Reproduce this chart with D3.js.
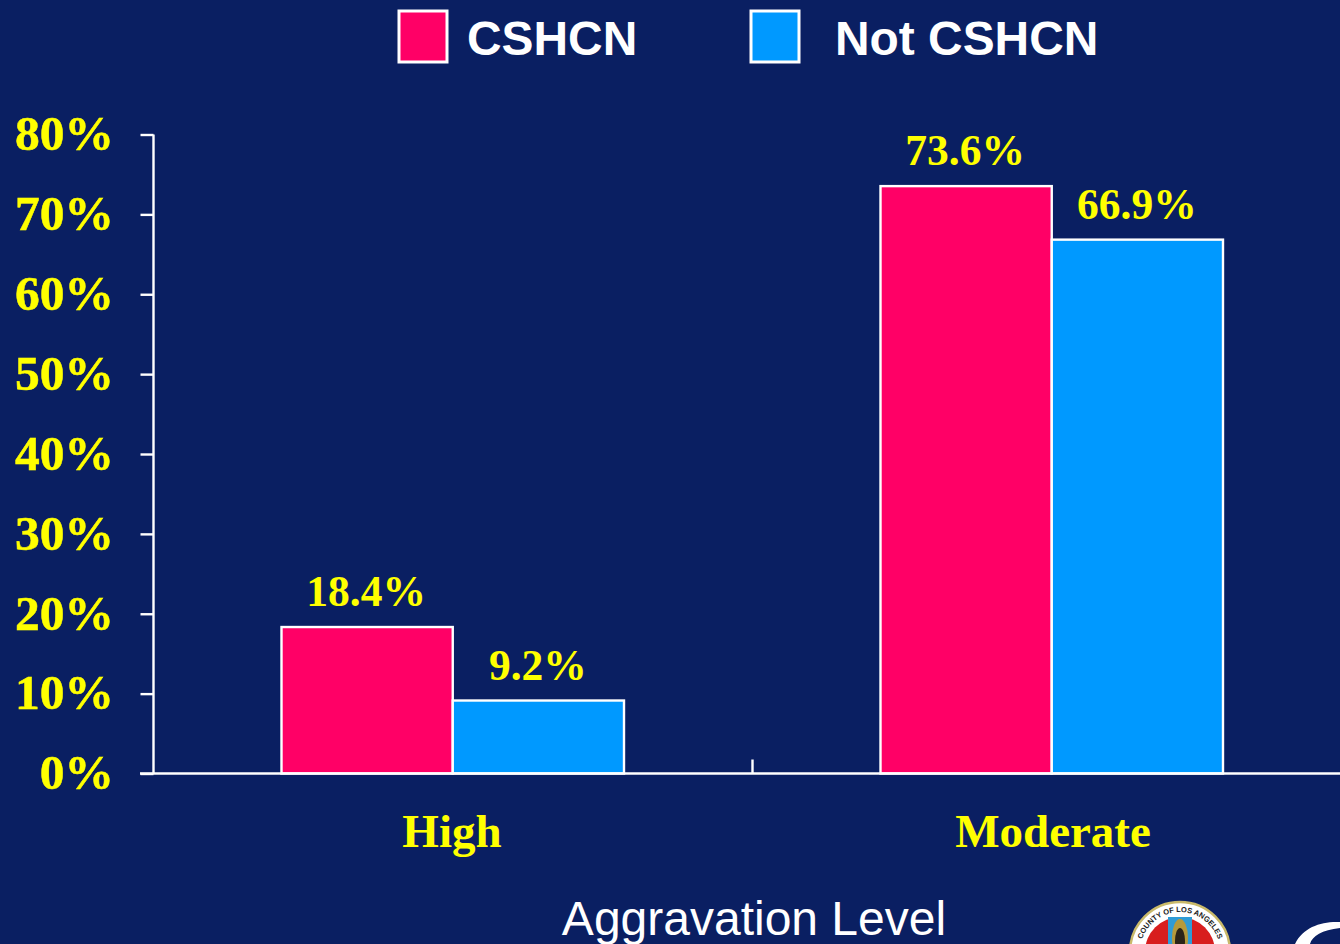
<!DOCTYPE html>
<html><head><meta charset="utf-8">
<script src="https://cdn.jsdelivr.net/npm/d3@7"></script>
<style>html,body{margin:0;padding:0;background:#0a1f62;overflow:hidden}svg{display:block}</style>
</head><body><div id="c"></div>
<script>
const categories = ["High","Moderate"];
const seriesNames = ["CSHCN","Not CSHCN"];
const cshcn = [18.4,73.6];
const notCshcn = [9.2,66.9];
const valueLabels = [["18.4%","73.6%"],["9.2%","66.9%"]];
const yTicks = [0,10,20,30,40,50,60,70,80];
const axisTitle = "Aggravation Level";
const colors = ["#ff0066","#0099ff"];
const serif = "'Liberation Serif',serif", sans = "'Liberation Sans',sans-serif";

const svg = d3.select("#c").append("svg").attr("width",1340).attr("height",944);
svg.append("rect").attr("width",1340).attr("height",944).attr("fill","#0a1f62");

const y = d3.scaleLinear().domain([0,80]).range([773.5,134.5]);
const x = d3.scaleBand().domain(categories).range([153.5,1351.5]);
const inner = d3.scaleBand().domain(seriesNames).range([128,470.5]);

// Y axis
const ya = svg.append("g").attr("transform","translate(153.5,0)")
  .call(d3.axisLeft(y).tickValues(yTicks).tickSize(13).tickFormat(d=>d+"%"));
ya.selectAll("path").attr("stroke","#fff").attr("stroke-width",2.4).attr("d","M0,134.5V773.5");
ya.selectAll("line").attr("stroke","#fff").attr("stroke-width",2.4);
ya.selectAll("text").attr("fill","#ffff00").attr("font-family",serif).attr("font-weight","bold").attr("font-size",49.5).attr("x",-39.5).attr("dy",".31em").attr("stroke","#ffff00").attr("stroke-width",0.5);

// Bars
[cshcn,notCshcn].forEach((vals,s)=>{
  const g = svg.append("g");
  g.selectAll("rect").data(vals).join("rect")
    .attr("x",(d,i)=>x(categories[i])+inner(seriesNames[s]))
    .attr("width",inner.bandwidth())
    .attr("y",d=>y(d)+0.5).attr("height",d=>y(0)-y(d)-0.5)
    .attr("fill",colors[s]).attr("stroke","#fff").attr("stroke-width",2.4);
  g.selectAll("text").data(vals).join("text")
    .attr("x",(d,i)=>x(categories[i])+inner(seriesNames[s])+inner.bandwidth()/2+(s?-0.5:-1))
    .attr("y",d=>y(d)-20.5)
    .attr("text-anchor","middle").attr("fill","#ffff00")
    .attr("font-family",serif).attr("font-weight","bold").attr("font-size",43.5)
    .text((d,i)=>valueLabels[s][i]);
});

// X axis
const xa = svg.append("g").attr("transform","translate(0,773.5)");
xa.append("line").attr("x1",140).attr("x2",1340).attr("stroke","#fff").attr("stroke-width",2.4);
xa.append("line").attr("x1",x("Moderate")).attr("x2",x("Moderate")).attr("y1",0).attr("y2",-14).attr("stroke","#fff").attr("stroke-width",2.4);
xa.selectAll("text").data(categories).join("text")
  .attr("x",(d,i)=>x(d)+x.bandwidth()/2+(i?1:-1)).attr("y",73)
  .attr("text-anchor","middle").attr("fill","#ffff00")
  .attr("font-family",serif).attr("font-weight","bold").attr("font-size",47).text(d=>d);

svg.append("text").attr("x",754).attr("y",935).attr("text-anchor","middle")
  .attr("fill","#fff").attr("font-family",sans).attr("font-size",48).text(axisTitle);

// Legend
const lg = svg.append("g");
const lx=[399,751], tx=[467,835];
seriesNames.forEach((n,i)=>{
  lg.append("rect").attr("x",lx[i]).attr("y",11).attr("width",48).attr("height",51)
    .attr("fill",colors[i]).attr("stroke","#fff").attr("stroke-width",3);
  lg.append("text").attr("x",tx[i]).attr("y",55).attr("fill","#fff")
    .attr("font-family",sans).attr("font-weight","bold").attr("font-size",47.9).text(n);
});

// Seal, cropped by the page bottom
const seal = svg.append("g").attr("transform","translate(1180,952)");
seal.append("circle").attr("r",50).attr("fill","#fff").attr("stroke","#c9b96a").attr("stroke-width",2.5);
seal.append("circle").attr("r",35).attr("fill","#d81e1e");
seal.append("rect").attr("x",-12).attr("y",-35).attr("width",24).attr("height",35).attr("fill","#2f9bd6");
seal.append("ellipse").attr("cy",-14).attr("rx",8).attr("ry",19).attr("fill","#b59a3c");
seal.append("ellipse").attr("cy",-11).attr("rx",5).attr("ry",13).attr("fill","#2a2418");
const sealDefs = seal.append("defs");
sealDefs.append("path").attr("id","sealArc").attr("d","M-40,0A40,40 0 0 1 40,0");
seal.append("text").attr("font-family",sans).attr("font-weight","bold").attr("font-size",7.5).attr("fill","#222")
  .append("textPath").attr("href","#sealArc").attr("startOffset","50%").attr("text-anchor","middle").text("COUNTY OF LOS ANGELES");
// Second logo fragment
svg.append("path").attr("d","M1340,922C1322,921 1303,927 1295,944L1310,944C1312,936 1322,930 1340,928Z").attr("fill","#fff");
</script></body></html>
